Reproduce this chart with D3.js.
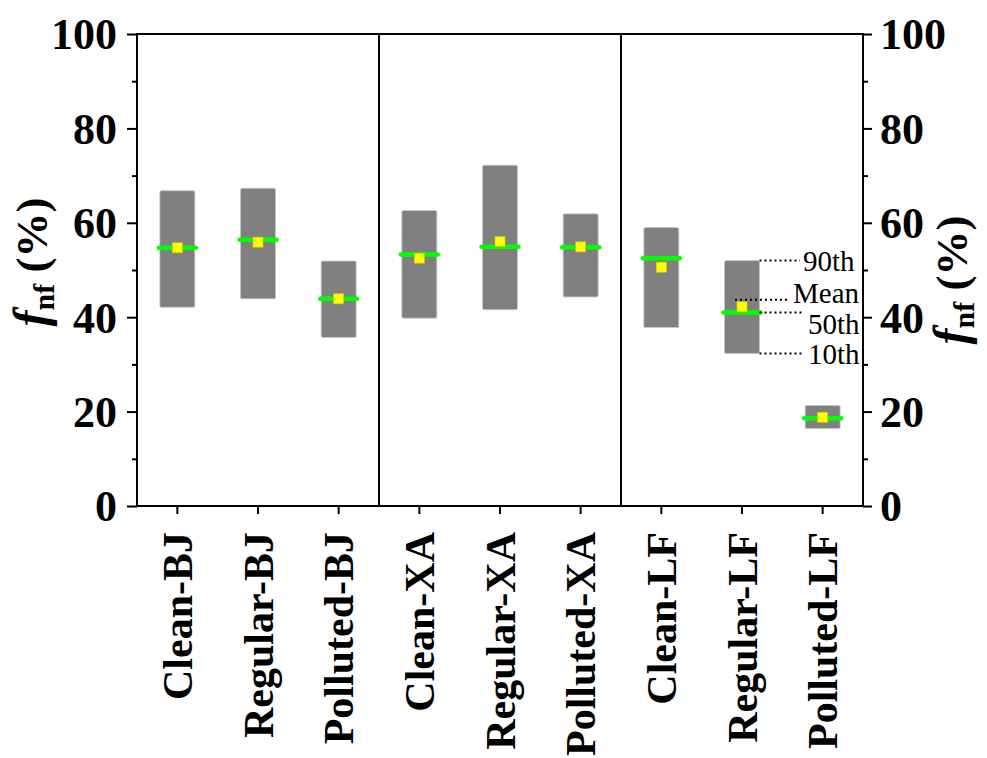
<!DOCTYPE html>
<html>
<head>
<meta charset="utf-8">
<script src="https://cdn.jsdelivr.net/npm/d3@7"></script>
<style>
  body { margin: 0; background: #fff; }
  svg text { font-family: "Liberation Serif", "Times New Roman", serif; }
</style>
</head>
<body>
<svg id="canvas"></svg>
<script>
// categories and percentile values
const categories = ["Clean-BJ", "Regular-BJ", "Polluted-BJ", "Clean-XA", "Regular-XA", "Polluted-XA", "Clean-LF", "Regular-LF", "Polluted-LF"];
const p90 = [66.8, 67.3, 51.9, 62.6, 72.2, 61.9, 59.0, 52.0, 21.3];
const p10 = [42.1, 43.9, 35.7, 39.8, 41.6, 44.3, 37.8, 32.3, 16.4];
const median = [54.7, 56.4, 43.9, 53.3, 54.9, 54.8, 52.5, 41.0, 18.6];
const mean = [54.7, 55.9, 43.9, 52.5, 56.0, 54.9, 50.6, 42.2, 18.8];
const majorTicks = [0, 20, 40, 60, 80, 100];
const minorTicks = [10, 30, 50, 70, 90];
const dividers = ["Polluted-BJ", "Polluted-XA"];   // a divider follows these
const legendLabels = ["90th", "Mean", "50th", "10th"];
const legendCat = "Regular-LF";

let width = 987;
let height = 758;
let margin = { left: 137, right: 124, top: 34, bottom: 252 };

let canvas = d3.select('#canvas');
canvas.attr('width', width);
canvas.attr('height', height);

let xScale = d3.scaleBand()
    .domain(categories)
    .range([margin.left, width - margin.right])
    .padding(0);
let yScale = d3.scaleLinear()
    .domain([0, 100])
    .range([height - margin.bottom, margin.top]);

const x0 = margin.left, x1 = width - margin.right;
const yTop = yScale(100), yBot = yScale(0);

// frame
canvas.append('rect')
    .attr('x', x0).attr('y', yTop)
    .attr('width', x1 - x0).attr('height', yBot - yTop)
    .attr('fill', 'none').attr('stroke', '#000').attr('stroke-width', 2);

// group dividers
dividers.forEach(c => {
    let xd = xScale(c) + xScale.bandwidth();
    canvas.append('line')
        .attr('x1', xd).attr('x2', xd).attr('y1', yTop).attr('y2', yBot)
        .attr('stroke', '#000').attr('stroke-width', 2);
});

// axes
let styleAxis = (g) => {
    g.select('.domain').remove();
    g.selectAll('.tick line').attr('stroke', '#000').attr('stroke-width', 2);
    g.selectAll('.tick text')
        .attr('fill', '#000')
        .style('font-size', '44px')
        .style('font-weight', 'bold');
};

canvas.append('g')
    .attr('transform', `translate(${x0},0)`)
    .call(d3.axisLeft(yScale).tickValues(majorTicks).tickSize(10).tickPadding(10))
    .call(styleAxis)
    .selectAll('.tick text').attr('dy', '0.34em');
canvas.append('g')
    .attr('transform', `translate(${x0},0)`)
    .call(d3.axisLeft(yScale).tickValues(minorTicks).tickSize(5).tickFormat(''))
    .call(styleAxis);
canvas.append('g')
    .attr('transform', `translate(${x1},0)`)
    .call(d3.axisRight(yScale).tickValues(majorTicks).tickSize(9).tickPadding(8))
    .call(styleAxis)
    .selectAll('.tick text').attr('dy', '0.34em');
canvas.append('g')
    .attr('transform', `translate(${x1},0)`)
    .call(d3.axisRight(yScale).tickValues(minorTicks).tickSize(5).tickFormat(''))
    .call(styleAxis);
canvas.append('g')
    .attr('transform', `translate(0,${yBot})`)
    .call(d3.axisBottom(xScale).tickSize(8).tickFormat(''))
    .call(styleAxis);

// rotated category labels
categories.forEach(c => {
    let cx = xScale(c) + xScale.bandwidth() / 2;
    canvas.append('text')
        .attr('transform', `translate(${cx},${yBot + 26}) rotate(-90)`)
        .attr('text-anchor', 'end')
        .attr('dy', '0.35em')
        .style('font-size', '42px')
        .style('font-weight', 'bold')
        .text(c);
});

// y titles
let yTitle = (tx, ty) => {
    let t = canvas.append('text')
        .attr('transform', `translate(${tx},${ty}) rotate(-90)`)
        .attr('text-anchor', 'middle')
        .style('font-size', '45px')
        .style('font-weight', 'bold');
    t.append('tspan').style('font-style', 'italic').style('font-size', '48px').text('f');
    t.append('tspan').attr('dy', 7).style('font-size', '30px').text('nf');
    t.append('tspan').attr('dy', -7).text(' (%)');
};
yTitle(47, 262);
yTitle(967, 280);

// boxes
const boxW = 35;
let boxes = canvas.append('g');
categories.forEach((c, i) => {
    let cx = xScale(c) + xScale.bandwidth() / 2;
    boxes.append('rect')
        .attr('x', cx - boxW / 2).attr('y', yScale(p90[i]))
        .attr('width', boxW).attr('height', yScale(p10[i]) - yScale(p90[i]))
        .attr('rx', 1.5)
        .attr('fill', '#808080').attr('stroke', '#c8c8c8').attr('stroke-width', 0.8);
    boxes.append('line')
        .attr('x1', cx - boxW / 2 - 1).attr('x2', cx + boxW / 2 + 1)
        .attr('y1', yScale(median[i])).attr('y2', yScale(median[i]))
        .attr('stroke', '#00ff00').attr('stroke-width', 4.5).attr('stroke-linecap', 'round');
    boxes.append('rect')
        .attr('x', cx - 5).attr('y', yScale(mean[i]) - 5)
        .attr('width', 10).attr('height', 10)
        .attr('fill', '#ffff00').attr('stroke', '#d8c800').attr('stroke-width', 0.7);
});

// legend annotation beside Regular-LF
let li = categories.indexOf(legendCat);
let lcx = xScale(legendCat) + xScale.bandwidth() / 2;
let legendY = [p90[li], mean[li], median[li], p10[li]];
let legendStart = [lcx + boxW / 2, lcx - 7, lcx + boxW / 2, lcx + boxW / 2];
let legendEnd = [800, 789, 803, 803];
let textX = [803, 793, 808, 808];
let textDy = [10, 3, 22, 10];
legendLabels.forEach((lab, k) => {
    let ly = yScale(legendY[k]) - (k === 1 ? 7 : 0);
    canvas.append('line')
        .attr('x1', legendStart[k]).attr('x2', legendEnd[k])
        .attr('y1', ly).attr('y2', ly)
        .attr('stroke', '#000').attr('stroke-width', 2)
        .attr('stroke-dasharray', '2,3');
    canvas.append('text')
        .attr('x', textX[k]).attr('y', ly + textDy[k])
        .style('font-size', '29px')
        .text(lab);
});
</script>
</body>
</html>
